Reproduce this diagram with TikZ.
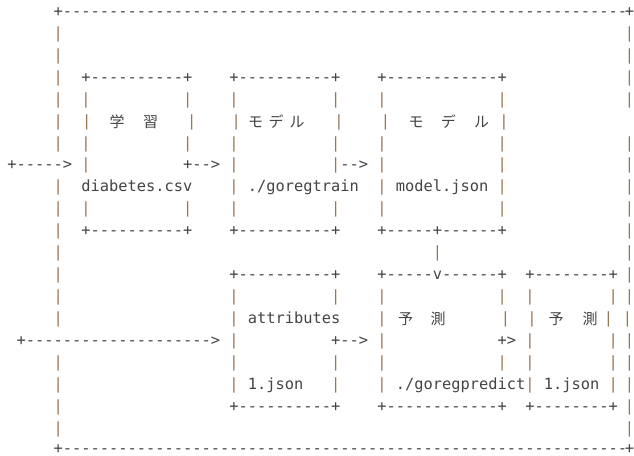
\documentclass[tikz,border=0pt]{standalone}
\usepackage{fontspec}
\newfontfamily\monofam[Ligatures=TeXOff]{DejaVu Sans Mono}
\newfontfamily\cjkfam{Noto Sans CJK JP}
\definecolor{txtgray}{HTML}{444444}
\definecolor{pipebrown}{RGB}{152,118,86}
\newcounter{nd}
\newcommand\Rpt[2]{\ifnum#1>0 #2\expandafter\Rpt\expandafter{\the\numexpr#1-1\relax}{#2}\fi}
\tikzset{
  txt/.style={font={\monofam\fontsize{15.365pt}{18pt}\selectfont}, text=txtgray, inner sep=0pt, outer sep=0pt},
  pipe/.style={txt, text=pipebrown, anchor=base},
  cj/.style={font={\cjkfam\fontsize{15pt}{18pt}\selectfont}, text=txtgray, inner sep=0pt, anchor=base}
}
% right-hand border position
\def\rbx{629.4}
% text run starting at a column
\newcommand\seg[3]{\stepcounter{nd}\node[txt,anchor=base west] (n\arabic{nd}) at ({7.375+9.25*(#1)},{16.3+21.95*(#2)}) {#3};}
% single gray character at a pixel position
\newcommand\chx[3]{\stepcounter{nd}\node[txt,anchor=base] (n\arabic{nd}) at (#1,{16.3+21.95*(#2)}) {\smash{#3}};}
% pipe at a column
\newcommand\ppc[2]{\stepcounter{nd}\node[pipe] (n\arabic{nd}) at ({12+9.25*(#1)},{16.3+21.95*(#2)}) {|};}
% pipe at a pixel position
\newcommand\ppx[2]{\stepcounter{nd}\node[pipe] (n\arabic{nd}) at (#1,{16.3+21.95*(#2)}) {|};}
% several pipes on one row, plus the right border
\newcommand\pps[2]{\foreach \cc in {#2}{\ppc{\cc}{#1}}}
\newcommand\rb[1]{\ppx{\rbx}{#1}}
% CJK glyph at a pixel position
\newcommand\cjc[3]{\stepcounter{nd}\node[cj] (n\arabic{nd}) at (#1,{17.3+21.95*(#2)}) {#3};}
\begin{document}
\begin{tikzpicture}[x=1pt,y=-1pt]
\fill[white] (0,0) rectangle (634,455);
\useasboundingbox (0,0) rectangle (634,455);
% row 0
\seg{5}{0}{\smash{+\Rpt{61}{-}}}
\chx{\rbx}{0}{+}
\pps{1}{5}\rb{1}
\pps{2}{5}\rb{2}
% row 3
\pps{3}{5}\rb{3}
\seg{8}{3}{+\Rpt{10}{-}+}
\seg{24}{3}{+\Rpt{10}{-}+}
\seg{40}{3}{+\Rpt{12}{-}+}
\pps{4}{5,8,19,24,35,40,53}\rb{4}
% row 5
\ppc{5}{5}
\ppx{86.7}{5}
\cjc{117}{5}{学}
\cjc{150.5}{5}{習}
\ppx{191.7}{5}
\ppx{236.3}{5}
\cjc{255.5}{5}{モ}
\cjc{276}{5}{デ}
\cjc{297}{5}{ル}
\ppx{339}{5}
\ppx{385.5}{5}
\cjc{416}{5}{モ}
\cjc{448.3}{5}{デ}
\cjc{481.5}{5}{ル}
\ppx{504}{5}
\pps{6}{5,8,19,24,35,40,53}\rb{6}
% row 7
\seg{0}{7}{+\Rpt{5}{-}>}
\seg{19}{7}{+-\relax->}
\seg{36}{7}{-\relax->}
\pps{7}{8,24,35,40,53}\rb{7}
% row 8
\pps{8}{5,24,40,53}\rb{8}
\seg{8}{8}{diabetes.csv}
\seg{26}{8}{./goregtrain}
\seg{42}{8}{model.json}
\pps{9}{5,8,19,24,35,40,53}\rb{9}
% row 10
\pps{10}{5}\rb{10}
\seg{8}{10}{+\Rpt{10}{-}+}
\seg{24}{10}{+\Rpt{10}{-}+}
\seg{40}{10}{+\Rpt{5}{-}+\Rpt{6}{-}+}
\pps{11}{5,46}\rb{11}
% row 12
\pps{12}{5}\rb{12}
\seg{24}{12}{+\Rpt{10}{-}+}
\seg{40}{12}{+\Rpt{5}{-}v\Rpt{6}{-}+}
\seg{56}{12}{+\Rpt{8}{-}+}
\pps{13}{5,24,35,40,53,56,65}\rb{13}
% row 14
\pps{14}{5,24,40}
\seg{26}{14}{attributes}
\cjc{405.5}{14}{予}
\cjc{438}{14}{測}
\ppx{505.5}{14}
\ppx{532}{14}
\cjc{556}{14}{予}
\cjc{590}{14}{測}
\ppx{608.5}{14}
\ppx{627.5}{14}
% row 15
\seg{1}{15}{+\Rpt{20}{-}>}
\seg{35}{15}{+-\relax->}
\seg{53}{15}{+>}
\pps{15}{24,40,56,65}\rb{15}
\pps{16}{5,24,35,40,53,56,65}\rb{16}
% row 17
\pps{17}{5,24,35,40,56,65}\rb{17}
\seg{26}{17}{1.json}
\seg{42}{17}{./goregpredict}
\seg{58}{17}{1.json}
% row 18
\pps{18}{5}\rb{18}
\seg{24}{18}{+\Rpt{10}{-}+}
\seg{40}{18}{+\Rpt{12}{-}+}
\seg{56}{18}{+\Rpt{8}{-}+}
\pps{19}{5}\rb{19}
\seg{5}{19.93}{\smash{+\Rpt{61}{-}}}
\chx{\rbx}{19.93}{+}
\end{tikzpicture}
\end{document}
